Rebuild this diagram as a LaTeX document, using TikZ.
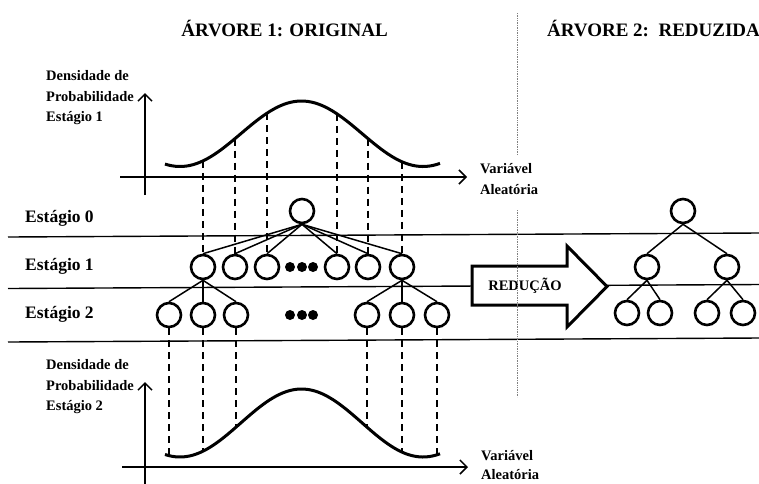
\documentclass[tikz,border=0pt]{standalone}
\usepackage{fontspec}
\setmainfont{Liberation Serif}
\usepackage{tikz}
\usetikzlibrary{arrows.meta, positioning}

\begin{document}
\begin{tikzpicture}[
    x=1pt, y=-1pt,
    node distance=32pt,
    on grid,
    title/.style={font=\bfseries\fontsize{19}{23}\selectfont, inner sep=0pt},
    stage/.style={font=\bfseries\fontsize{17.5}{21}\selectfont, anchor=west, inner sep=0pt},
    axislabel/.style={font=\bfseries\fontsize{14.5}{20.5}\selectfont, align=left, anchor=west, inner sep=0pt},
    leaf/.style={circle, draw, fill=white, line width=2.6pt, minimum size=24pt, inner sep=0pt},
    dot/.style={circle, fill, minimum size=10pt, inner sep=0pt},
    branch/.style={line width=1.5pt},
    guide/.style={line width=1.5pt, dash pattern=on 7pt off 5pt},
    axis/.style={line width=1.5pt, -{Straight Barb[length=7pt, width=14pt]}},
    density/.style={line width=3pt, smooth, samples=80, domain=165:440},
    stageline/.style={line width=1.4pt},
    divider/.style={line width=0.7pt, gray, densely dotted},
    declare function={
        topcurve(\x)=166.5-32.75*(1-cos((\x-180)*1.4815));
        botcurve(\x)=457-34*(1-cos((\x-180)*1.4815));
    }
]
    \useasboundingbox (0,0) rectangle (759,483);

    % Titles
    \node[title] (orig) at (284.5,28) {ÁRVORE 1: ORIGINAL};
    \node[title, anchor=west] (redu) at (547,28) {ÁRVORE 2:\ \ REDUZIDA};

    % Stage bands
    \draw[stageline] (8,237) -- (759,233);
    \draw[stageline] (8,288.5) -- (759,284.5);
    \draw[stageline] (8,342) -- (759,338);
    \node[stage] (e0) at (25,218) {Estágio 0};
    \node[stage] (e1) at (25,266) {Estágio 1};
    \node[stage] (e2) at (25,314) {Estágio 2};

    % Density, stage 1
    \draw[axis] (145,195) -- (145,93);
    \draw[axis] (120,177) -- (467,177);
    \draw[density] plot (\x,{topcurve(\x)});
    \node[axislabel] (ylab1) at (46,98) {Densidade de\\Probabilidade\\Estágio 1};
    \node[axislabel] (xlab1) at (480,179) {Variável\\Aleatória};

    % Density, stage 2
    \draw[axis] (145,490) -- (145,382);
    \draw[axis] (122,467) -- (468,467);
    \draw[density] plot (\x,{botcurve(\x)});
    \node[axislabel] (ylab2) at (46,387) {Densidade de\\Probabilidade\\Estágio 2};
    \node[axislabel, font=\bfseries\fontsize{14.5}{19.5}\selectfont] (xlab2) at (481,465) {Variável\\Aleatória};

    % Original tree
    \node[leaf] (r) at (302,211) {};
    \node[leaf] (a1) at (203,267) {};
    \node[leaf, right=of a1] (a2) {};
    \node[leaf, right=of a2] (a3) {};
    \node[dot] (d1) at (290,267) {};
    \node[dot] (d2) at (302,267) {};
    \node[dot] (d3) at (313,267) {};
    \node[leaf] (a6) at (402,267) {};
    \node[leaf, left=34pt of a6] (a5) {};
    \node[leaf, left=31pt of a5] (a4) {};

    \node[leaf, below=48pt of a1] (b2) {};
    \node[leaf, left=34pt of b2] (b1) {};
    \node[leaf, right=33pt of b2] (b3) {};
    \node[dot] (f1) at (290,315) {};
    \node[dot] (f2) at (302,315) {};
    \node[dot] (f3) at (313,315) {};
    \node[leaf, below=48pt of a6] (b5) {};
    \node[leaf, left=35pt of b5] (b4) {};
    \node[leaf, right=35pt of b5] (b6) {};

    \draw[branch] (r.south) -- (a1.north);
    \draw[branch] (r.south) -- (a2.north);
    \draw[branch] (r.south) -- (a3.north);
    \draw[branch] (r.south) -- (a4.north);
    \draw[branch] (r.south) -- (a5.north);
    \draw[branch] (r.south) -- (a6.north);
    \draw[branch] (a1.south) -- (b1.north);
    \draw[branch] (a1.south) -- (b2.north);
    \draw[branch] (a1.south) -- (b3.north);
    \draw[branch] (a6.south) -- (b4.north);
    \draw[branch] (a6.south) -- (b5.north);
    \draw[branch] (a6.south) -- (b6.north);

    % Points of the curves
    \coordinate (u1) at (203,{topcurve(203)});
    \coordinate (u2) at (235,{topcurve(235)});
    \coordinate (u3) at (267,{topcurve(267)});
    \coordinate (u4) at (337,{topcurve(337)});
    \coordinate (u5) at (368,{topcurve(368)});
    \coordinate (u6) at (402,{topcurve(402)});
    \coordinate (w1) at (169,{botcurve(169)});
    \coordinate (w2) at (203,{botcurve(203)});
    \coordinate (w3) at (236,{botcurve(236)});
    \coordinate (w4) at (367,{botcurve(367)});
    \coordinate (w5) at (402,{botcurve(402)});
    \coordinate (w6) at (437,{botcurve(437)});

    \draw[guide] (u1) -- (a1.north);
    \draw[guide] (u2) -- (a2.north);
    \draw[guide] (u3) -- (a3.north);
    \draw[guide] (u4) -- (a4.north);
    \draw[guide] (u5) -- (a5.north);
    \draw[guide] (u6) -- (a6.north);
    \draw[guide] (b1.south) -- (w1);
    \draw[guide] (b2.south) -- (w2);
    \draw[guide] (b3.south) -- (w3);
    \draw[guide] (b4.south) -- (w4);
    \draw[guide] (b5.south) -- (w5);
    \draw[guide] (b6.south) -- (w6);

    % Reduced tree
    \node[leaf] (R) at (683,211) {};
    \node[leaf, below left=56pt and 36pt of R] (s1) {};
    \node[leaf, below right=56pt and 44pt of R] (s2) {};
    \node[leaf, below left=46pt and 20pt of s1] (t1) {};
    \node[leaf, below right=46pt and 13pt of s1] (t2) {};
    \node[leaf, below left=46pt and 20pt of s2] (t3) {};
    \node[leaf, below right=46pt and 16pt of s2] (t4) {};
    \draw[branch] (R.south) -- (s1.north);
    \draw[branch] (R.south) -- (s2.north);
    \draw[branch] (s1.south) -- (t1.north);
    \draw[branch] (s1.south) -- (t2.north);
    \draw[branch] (s2.south) -- (t3.north);
    \draw[branch] (s2.south) -- (t4.north);

    % Block arrow
    \draw[line width=3pt, fill=white]
        (472,266) -- (567,266) -- (567,246) -- (607,286.5)
        -- (567,327) -- (567,305) -- (472,305) -- cycle;
    \node[font=\bfseries\fontsize{14.5}{17}\selectfont] (rd) at (525,285.5) {REDUÇÃO};

    % Divider
    \draw[divider] (517,13) -- (517,155);
    \draw[divider] (517,210) -- (517,397);
\end{tikzpicture}
\end{document}
